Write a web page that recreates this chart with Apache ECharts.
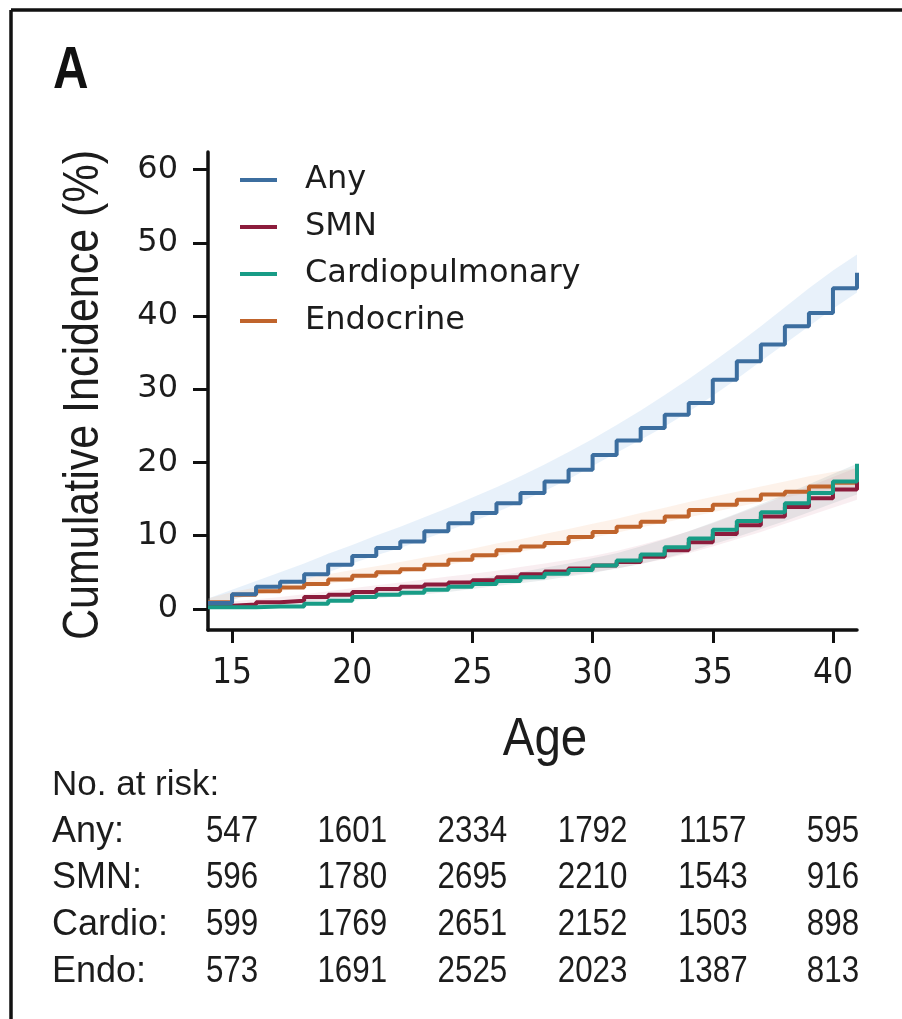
<!DOCTYPE html>
<html>
<head>
<meta charset="utf-8">
<script src="https://cdn.jsdelivr.net/npm/echarts@6/dist/echarts.min.js"></script>
<style>
html,body{margin:0;padding:0;background:#ffffff;}
#c{width:902px;height:1019px;}
</style>
</head>
<body>
<div id="c"></div>
<script>
// ---------------- data ----------------
const ages = [14,15,16,17,18,19,20,21,22,23,24,25,26,27,28,29,30,31,32,33,34,35,36,37,38,39,40,41];

const anyVals    = [0.8,2.0,3.0,3.7,4.7,6.0,7.2,8.3,9.2,10.6,11.7,13.1,14.4,15.8,17.4,19.0,21.0,23.0,24.7,26.5,28.1,31.3,33.8,36.1,38.6,40.4,43.8,45.9];
const anyLow     = [0.4,1.2,2.2,3.0,3.9,5.0,6.2,7.3,8.3,9.5,10.7,11.9,13.2,14.6,16.1,17.7,19.5,21.3,23.1,24.9,26.9,29.1,31.4,33.8,36.2,38.6,41.0,43.2];
const anyHigh    = [1.4,2.6,3.8,5.0,6.2,7.5,8.7,10.0,11.2,12.5,13.8,15.2,16.6,18.1,19.7,21.4,23.2,25.1,27.1,29.2,31.4,33.7,36.1,38.6,41.2,43.8,46.2,48.4];

const smnVals    = [0.4,0.6,0.9,1.1,1.6,1.9,2.3,2.7,3.0,3.3,3.6,3.9,4.3,4.7,5.1,5.5,5.9,6.4,7.1,8.0,9.1,10.2,11.4,12.6,13.9,15.1,16.3,17.4];
const smnLow     = [0.1,0.3,0.5,0.7,1.0,1.3,1.6,1.9,2.2,2.5,2.8,3.1,3.4,3.8,4.2,4.6,5.0,5.5,6.1,6.8,7.6,8.5,9.5,10.5,11.6,12.7,13.8,14.9];
const smnHigh    = [0.7,1.0,1.3,1.6,2.0,2.4,2.8,3.2,3.6,4.0,4.4,4.8,5.2,5.7,6.2,6.7,7.2,7.9,8.7,9.6,10.6,11.7,12.9,14.1,15.4,16.7,18.0,19.3];

const cardioVals = [0.2,0.2,0.3,0.3,0.7,1.1,1.6,1.9,2.2,2.6,3.0,3.4,3.8,4.3,4.8,5.3,5.9,6.6,7.4,8.4,9.6,10.8,12.0,13.2,14.4,15.8,17.4,19.8];
const cardioLow  = [0.0,0.1,0.2,0.3,0.5,0.8,1.1,1.4,1.7,2.0,2.3,2.7,3.1,3.5,3.9,4.4,4.9,5.5,6.1,6.9,7.8,8.8,9.8,10.9,12.0,13.2,14.4,15.6];
const cardioHigh = [0.5,0.6,0.8,1.0,1.3,1.7,2.1,2.5,2.8,3.2,3.6,4.0,4.5,5.0,5.6,6.2,6.9,7.6,8.5,9.5,10.6,11.8,13.0,14.3,15.6,17.0,18.4,19.8];

const endoVals   = [0.9,1.9,2.4,2.9,3.4,4.0,4.5,5.0,5.4,6.0,6.7,7.3,8.0,8.5,9.0,9.8,10.5,11.2,11.9,12.6,13.5,14.2,14.9,15.6,16.0,16.7,17.2,17.5];
const endoLow    = [0.5,1.3,1.9,2.4,2.9,3.4,3.9,4.4,4.9,5.4,6.0,6.6,7.2,7.8,8.4,9.0,9.7,10.4,11.1,11.8,12.5,13.2,13.9,14.6,15.2,15.8,16.3,16.7];
const endoHigh   = [1.4,2.3,2.9,3.5,4.1,4.7,5.3,5.8,6.4,7.0,7.6,8.2,8.9,9.5,10.2,10.9,11.6,12.3,13.1,13.8,14.6,15.3,16.0,16.7,17.4,18.1,18.7,19.2];

const xTicks = [15,20,25,30,35,40];
const yTicks = [0,10,20,30,40,50,60];

const riskTitle = 'No. at risk:';
const riskRowLabels = ['Any:','SMN:','Cardio:','Endo:'];
const riskAny    = [547,1601,2334,1792,1157,595];
const riskSMN    = [596,1780,2695,2210,1543,916];
const riskCardio = [599,1769,2651,2152,1503,898];
const riskEndo   = [573,1691,2525,2023,1387,813];
const riskRows = [riskAny, riskSMN, riskCardio, riskEndo];

// ---------------- styling ----------------
const COND = "'DejaVu Sans Condensed','DejaVu Sans',sans-serif";
const ARIAL = "'Liberation Sans',Arial,sans-serif";
const WIDE = "'DejaVu Sans',sans-serif";
const TXT = '#1c1c1c';

const COL = {
  any: '#3c6e9f',
  smn: '#8c1c3c',
  cardio: '#189c86',
  endo: '#c0642c'
};
const BAND = {
  any: 'rgba(130,175,228,0.18)',
  smn: 'rgba(210,120,150,0.13)',
  cardio: 'rgba(140,160,165,0.18)',
  endo: 'rgba(240,165,115,0.15)'
};

const pairs = (xs, ys) => xs.map((x, i) => [x, ys[i]]);

function bandSeries(key, lo, hi) {
  return {
    name: key + 'Band', type: 'custom', silent: true, z: 1, clip: true,
    data: [[ages[0], lo[0]]],
    renderItem: function (params, api) {
      const up = ages.map((a, i) => api.coord([a, hi[i]]));
      const dn = ages.map((a, i) => api.coord([a, lo[i]])).reverse();
      return { type: 'polygon', shape: { points: up.concat(dn) }, style: { fill: BAND[key], stroke: null } };
    }
  };
}
function stepLine(name, key, vals, z) {
  return { name: name, type: 'line', step: 'end', data: pairs(ages, vals), symbol: 'none',
    lineStyle: { color: COL[key], width: 4 }, itemStyle: { color: COL[key] }, z: z };
}

const chart = echarts.init(document.getElementById('c'), null, { renderer: 'canvas' });

const option = {
  backgroundColor: '#ffffff',
  animation: false,
  grid: { left: 208, right: 45, top: 152, bottom: 389, containLabel: false },
  legend: {
    data: ['Any', 'SMN', 'Cardiopulmonary', 'Endocrine'],
    orient: 'vertical',
    left: 235,
    top: 159,
    icon: 'rect',
    itemWidth: 37,
    itemHeight: 4,
    itemGap: 15,
    selectedMode: false,
    textStyle: { fontFamily: WIDE, fontSize: 32, color: TXT, lineHeight: 32, padding: [0, 0, 0, 23] }
  },
  xAxis: {
    type: 'value', min: 14, max: 41,
    axisLine: { show: true, onZero: false, lineStyle: { color: '#111', width: 3.5 } },
    axisTick: { show: true, customValues: xTicks, length: 13, lineStyle: { color: '#111', width: 3 } },
    axisLabel: { customValues: xTicks, fontFamily: COND, fontSize: 35, color: TXT, margin: 26 },
    splitLine: { show: false }
  },
  yAxis: {
    type: 'value', min: -2.9, max: 62.4,
    axisLine: { show: true, onZero: false, lineStyle: { color: '#111', width: 3.5 } },
    axisTick: { show: true, customValues: yTicks, length: 15, lineStyle: { color: '#111', width: 3 } },
    axisLabel: { customValues: yTicks, fontFamily: WIDE, fontSize: 32, color: TXT, margin: 30 },
    splitLine: { show: false }
  },
  series: [
    bandSeries('any', anyLow, anyHigh),
    bandSeries('endo', endoLow, endoHigh),
    bandSeries('smn', smnLow, smnHigh),
    bandSeries('cardio', cardioLow, cardioHigh),
    stepLine('Endocrine', 'endo', endoVals, 5),
    stepLine('SMN', 'smn', smnVals, 6),
    stepLine('Cardiopulmonary', 'cardio', cardioVals, 7),
    stepLine('Any', 'any', anyVals, 8)
  ]
};
chart.setOption(option);

// ---------------- texts & risk table ----------------
const graphics = [
  { type: 'line', shape: { x1: 11, y1: 10, x2: 902, y2: 10 }, style: { stroke: '#111', lineWidth: 3.5 } },
  { type: 'line', shape: { x1: 11, y1: 10, x2: 11, y2: 1019 }, style: { stroke: '#111', lineWidth: 3.5 } },
  { type: 'text', x: 53, y: 71, scaleX: 0.82,
    style: { text: 'A', fontFamily: ARIAL, fontWeight: 'bold', fontSize: 60, fill: '#111', align: 'left', verticalAlign: 'middle' } },
  { type: 'text', x: 84, y: 395, rotation: Math.PI / 2, scaleX: 0.86,
    style: { text: 'Cumulative Incidence (%)', fontFamily: ARIAL, fontSize: 50, fill: TXT, align: 'center', verticalAlign: 'middle' } },
  { type: 'text', x: 545, y: 740, scaleX: 0.88,
    style: { text: 'Age', fontFamily: ARIAL, fontSize: 54, fill: TXT, align: 'center', verticalAlign: 'middle' } },
  { type: 'text', x: 52, y: 785,
    style: { text: riskTitle, fontFamily: ARIAL, fontSize: 35, fill: TXT, align: 'left', verticalAlign: 'middle' } }
];
const rowY = [832, 878, 925, 972];
riskRows.forEach((row, r) => {
  graphics.push({ type: 'text', x: 52, y: rowY[r],
    style: { text: riskRowLabels[r], fontFamily: ARIAL, fontSize: 36, fill: TXT, align: 'left', verticalAlign: 'middle' } });
  row.forEach((v, k) => {
    const px = chart.convertToPixel({ xAxisIndex: 0 }, xTicks[k]);
    graphics.push({ type: 'text', x: px, y: rowY[r], scaleX: 0.87,
      style: { text: String(v), fontFamily: ARIAL, fontSize: 36, fill: TXT, align: 'center', verticalAlign: 'middle' } });
  });
});
chart.setOption({ graphic: graphics });
</script>
</body>
</html>
